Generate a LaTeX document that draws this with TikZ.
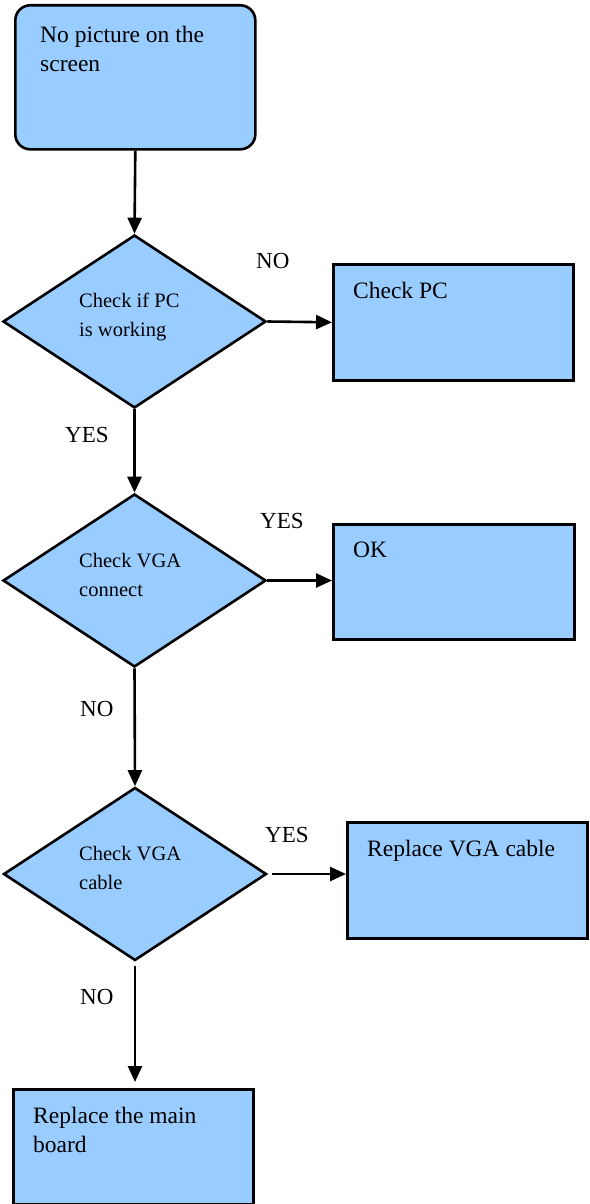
\documentclass[tikz,border=0pt]{standalone}
\usepackage{fontspec}
\setmainfont{Liberation Serif}
\usetikzlibrary{shapes.geometric,arrows.meta}
\definecolor{fillblue}{HTML}{99CCFF}
\begin{document}
\begin{tikzpicture}[x=1pt,y=-1pt,
  box/.style={draw=black, line width=2.6pt, fill=fillblue, inner sep=0pt, anchor=north west, rectangle},
  dia/.style={draw=black, line width=2.6pt, fill=fillblue, shape=diamond, inner sep=0pt, minimum width=263pt, minimum height=173pt},
  btext/.style={anchor=base west, inner sep=0pt, font=\fontsize{23.5}{28}\selectfont},
  dtext/.style={anchor=base west, inner sep=0pt, font=\fontsize{20.5}{28}\selectfont},
  lab/.style={anchor=base west, inner sep=0pt, font=\fontsize{23}{28}\selectfont},
  conn/.style={line width=2.6pt, -{Triangle[length=16pt,width=14pt]}}]
\useasboundingbox (0,0) rectangle (589,1204);

% shapes
\node[box, rounded corners=15pt, minimum width=240pt, minimum height=144pt] (top) at (14,4) {};
\node[dia] (d1) at (134.5,321.5) {};
\node[box, minimum width=240pt, minimum height=116pt] (cpc) at (332,263) {};
\node[dia] (d2) at (134.5,580.5) {};
\node[box, minimum width=241pt, minimum height=115pt] (ok) at (332,523) {};
\node[dia] (d3) at (135,874) {};
\node[box, minimum width=240pt, minimum height=116pt] (rvga) at (346,821) {};
\node[box, minimum width=240pt, minimum height=115pt] (mb) at (12,1088) {};

% texts
\node[btext] (t1a) at (40,43) {No picture on the};
\node[btext] (t1b) at (40,72) {screen};
\node[dtext] (t2a) at (79,307) {Check if PC};
\node[dtext] (t2b) at (79,336) {is working};
\node[btext] (t3) at (353,298) {Check PC};
\node[dtext] (t4a) at (79,567) {Check VGA};
\node[dtext] (t4b) at (79,596) {connect};
\node[btext] (t5) at (353,557) {OK};
\node[dtext] (t6a) at (79,860) {Check VGA};
\node[dtext] (t6b) at (79,889) {cable};
\node[btext] (t7) at (367,856) {Replace VGA cable};
\node[btext] (t8a) at (33,1123) {Replace the main};
\node[btext] (t8b) at (33,1152) {board};

% labels
\node[lab] (l1) at (256,268) {NO};
\node[lab] (l2) at (65,442) {YES};
\node[lab] (l3) at (260,528) {YES};
\node[lab] (l4) at (80,716) {NO};
\node[lab] (l5) at (265,842) {YES};
\node[lab] (l6) at (80,1004) {NO};

% connectors
\draw[conn] (top.south) -- (d1.north);
\draw[conn] (d1.east) -- (cpc.west);
\draw[conn] (d1.south) -- (d2.north);
\draw[conn] (d2.east) -- (d2.east -| ok.west);
\draw[conn] (d2.south) -- (d3.north);
\draw[conn, shorten <=4pt] (d3.east) -- (d3.east -| rvga.west);
\draw[conn, shorten <=4pt, shorten >=6pt] (d3.south) -- (d3.south |- mb.north);
\end{tikzpicture}
\end{document}
